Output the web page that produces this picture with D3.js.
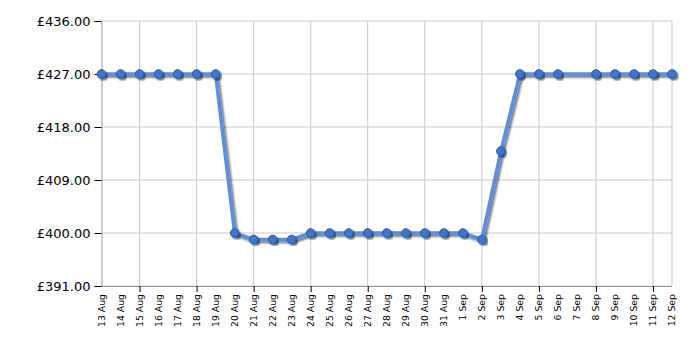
<!DOCTYPE html>
<meta charset="utf-8">
<style>
body{margin:0;background:#fff;font-family:"DejaVu Sans",Verdana,sans-serif;}
</style>
<body>
<div id="container"></div>
<script src="https://d3js.org/d3.v7.min.js"></script>
<script>

var width = 700,
    height = 350;

var margin = {top: 21, right: 28, bottom: 64, left: 101.5};

// price history, one entry per day (no reading on 7 Sep)
var dates = ["2023-08-13","2023-08-14","2023-08-15","2023-08-16","2023-08-17","2023-08-18","2023-08-19",
             "2023-08-20","2023-08-21","2023-08-22","2023-08-23","2023-08-24","2023-08-25","2023-08-26",
             "2023-08-27","2023-08-28","2023-08-29","2023-08-30","2023-08-31","2023-09-01","2023-09-02",
             "2023-09-03","2023-09-04","2023-09-05","2023-09-06","2023-09-08","2023-09-09","2023-09-10",
             "2023-09-11","2023-09-12"];
var prices = [427, 427, 427, 427, 427, 427, 427,
              400, 398.9, 398.9, 398.9, 400, 400, 400,
              400, 400, 400, 400, 400, 400, 398.9,
              413.9, 427, 427, 427, 427, 427, 427,
              427, 427];
var yTicks = [391, 400, 409, 418, 427, 436];

var parse = d3.timeParse("%Y-%m-%d");
var data = dates.map(function(d, i) { return {date: parse(d), price: prices[i]}; });

var w = width - margin.left - margin.right,
    h = height - margin.top - margin.bottom;

var svg = d3.select("#container").append("svg")
    .attr("width", width)
    .attr("height", height);

var defs = svg.append("defs");
var f = defs.append("filter").attr("id", "shadow")
    .attr("x", "-20%").attr("y", "-20%").attr("width", "140%").attr("height", "140%");
f.append("feGaussianBlur").attr("in", "SourceAlpha").attr("stdDeviation", 1.2);
f.append("feOffset").attr("dx", 1.5).attr("dy", 1.5).attr("result", "off");
f.append("feComponentTransfer").append("feFuncA").attr("type", "linear").attr("slope", 0.55);
var fm = f.append("feMerge");
fm.append("feMergeNode");
fm.append("feMergeNode").attr("in", "SourceGraphic");

var g = svg.append("g")
    .attr("transform", "translate(" + margin.left + "," + margin.top + ")");

var x = d3.scaleTime()
    .domain([parse("2023-08-13"), parse("2023-09-12")])
    .range([0, w]);

var y = d3.scaleLinear()
    .domain([391, 436])
    .range([h, 0]);

var allDays = d3.timeDay.range(parse("2023-08-13"), d3.timeDay.offset(parse("2023-09-12"), 1));
var gridDays = allDays.filter(function(d, i) { return i > 0 && (i - 2) % 3 === 0; });

// grid
g.append("g").selectAll("line.h")
    .data(yTicks).enter().append("line")
    .attr("x1", 0).attr("x2", w)
    .attr("y1", function(d) { return y(d); }).attr("y2", function(d) { return y(d); })
    .style("stroke", "#c8c8c8").style("stroke-width", 1);

g.append("g").selectAll("line.v")
    .data(gridDays.concat([parse("2023-09-12")])).enter().append("line")
    .attr("x1", function(d) { return x(d); }).attr("x2", function(d) { return x(d); })
    .attr("y1", 0).attr("y2", h)
    .style("stroke", "#c8c8c8").style("stroke-width", 1);

// axes
var yAxis = g.append("g")
    .call(d3.axisLeft(y).tickValues(yTicks).tickSize(7).tickPadding(4)
      .tickFormat(function(d) { return "£" + d3.format(".2f")(d); }));
yAxis.select(".domain").style("stroke", "#999");
yAxis.selectAll(".tick line").style("stroke", "#000");
yAxis.selectAll("text").style("font-size", "13px").style("fill", "#000")
    .style("font-family", "'DejaVu Sans',Verdana,sans-serif");

var xAxis = g.append("g")
    .attr("transform", "translate(0," + h + ")")
    .call(d3.axisBottom(x).tickValues(gridDays).tickSize(6).tickFormat(""));
xAxis.select(".domain").attr("d", "M0.5,0.5H" + w).style("stroke", "#999");
xAxis.selectAll(".tick line").style("stroke", "#000");

g.append("g")
    .attr("transform", "translate(0," + h + ")")
    .selectAll("text")
    .data(allDays).enter().append("text")
    .attr("transform", function(d) { return "translate(" + (x(d) + 3) + ",8) rotate(-90)"; })
    .attr("text-anchor", "end")
    .style("font-size", "9.3px")
    .style("font-family", "'DejaVu Sans',Verdana,sans-serif")
    .style("fill", "#000")
    .text(function(d) { return d3.timeFormat("%-d %b")(d); });

// line
var line = d3.line()
    .x(function(d) { return x(d.date); })
    .y(function(d) { return y(d.price); });

g.append("path")
    .datum(data)
    .attr("d", line)
    .attr("filter", "url(#shadow)")
    .style("fill", "none")
    .style("stroke", "#5a8fe0")
    .style("stroke-width", 3.5)
    .style("stroke-linejoin", "round");

g.append("g").selectAll("circle")
    .data(data).enter().append("circle")
    .attr("cx", function(d) { return x(d.date); })
    .attr("cy", function(d) { return y(d.price); })
    .attr("r", 4.3)
    .attr("filter", "url(#shadow)")
    .style("fill", "#3d76cf")
    .style("stroke", "#2b5aa3")
    .style("stroke-width", 1);

</script>
</body>
</html>
